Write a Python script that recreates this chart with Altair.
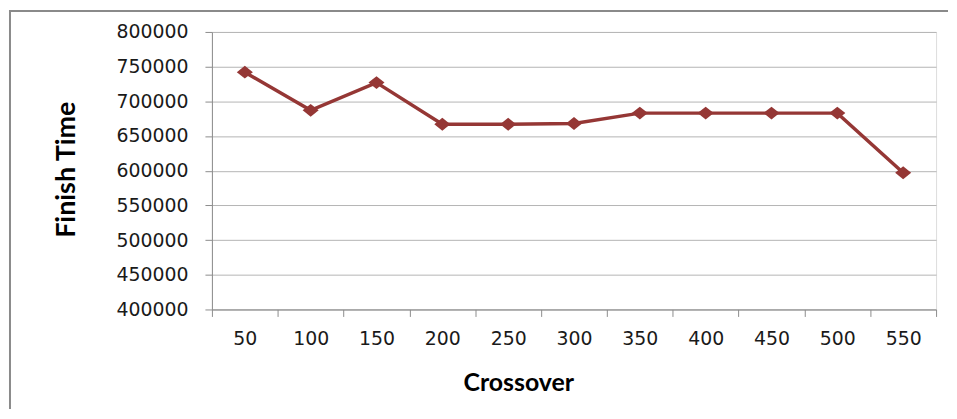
import altair as alt
import pandas as pd

crossover = ["50", "100", "150", "200", "250", "300", "350", "400", "450", "500", "550"]
finish_time = [742000, 687000, 727000, 667000, 667000, 668000, 683000, 683000, 683000, 683000, 597000]
y_ticks = [400000, 450000, 500000, 550000, 600000, 650000, 700000, 750000, 800000]

df = pd.DataFrame({"Crossover": crossover, "FinishTime": finish_time})

COLOR = "#953735"
AXIS_GRAY = "#8c8c8c"
LABEL_FONT = "DejaVu Sans"
TITLE_FONT = "Lato"

x_enc = alt.X(
    "Crossover:O",
    sort=crossover,
    scale=alt.Scale(paddingInner=0, paddingOuter=0),
    axis=alt.Axis(
        title="Crossover",
        labelAngle=0,
        tickBand="extent",
        grid=False,
        domainColor=AXIS_GRAY,
        tickColor=AXIS_GRAY,
        tickSize=7,
        labelFont=LABEL_FONT,
        labelFontSize=19,
        labelColor="#1a1a1a",
        labelPadding=13,
        titleFont=TITLE_FONT,
        titleFontWeight="bold",
        titleFontSize=25,
        titleColor="#000000",
        titleX=308,
        titleY=73,
        titleBaseline="middle",
        titleAlign="center",
    ),
)

y_enc = alt.Y(
    "FinishTime:Q",
    scale=alt.Scale(domain=[400000, 800000], nice=False, zero=False),
    axis=alt.Axis(
        title="Finish Time",
        values=y_ticks,
        format="d",
        grid=True,
        gridColor="#b4b4b4",
        gridWidth=1,
        domainColor=AXIS_GRAY,
        tickColor=AXIS_GRAY,
        tickSize=7,
        labelFont=LABEL_FONT,
        labelFontSize=19,
        labelColor="#1a1a1a",
        labelPadding=17,
        titleFont=TITLE_FONT,
        titleFontWeight="bold",
        titleFontSize=27,
        titleColor="#000000",
        titleX=-146,
        titleY=138,
        titleAngle=-90,
        titleBaseline="middle",
        titleAlign="center",
    ),
)

line = alt.Chart(df).mark_line(color=COLOR, strokeWidth=3.5).encode(x=x_enc, y=y_enc)
points = alt.Chart(df).mark_point(
    shape="M-1,0L0,-0.8L1,0L0,0.8Z",
    size=260,
    filled=True,
    opacity=1,
    color=COLOR,
).encode(x=x_enc, y=y_enc)

frame_data = alt.Data(values=[{"a": 1}])
frame_top = alt.Chart(frame_data).mark_rule(stroke="#8a8a8a", strokeWidth=2).encode(
    x=alt.value(-204), x2=alt.value(740), y=alt.value(-21)
)
frame_left = alt.Chart(frame_data).mark_rule(stroke="#8a8a8a", strokeWidth=2).encode(
    x=alt.value(-203), y=alt.value(-22), y2=alt.value(379)
)

chart = alt.layer(frame_top, frame_left, line, points).properties(
    width=728, height=279, padding=0
).configure_view(stroke=None).configure(background="white")

chart.save("out.html", embed_options={"renderer": "svg", "actions": False})
